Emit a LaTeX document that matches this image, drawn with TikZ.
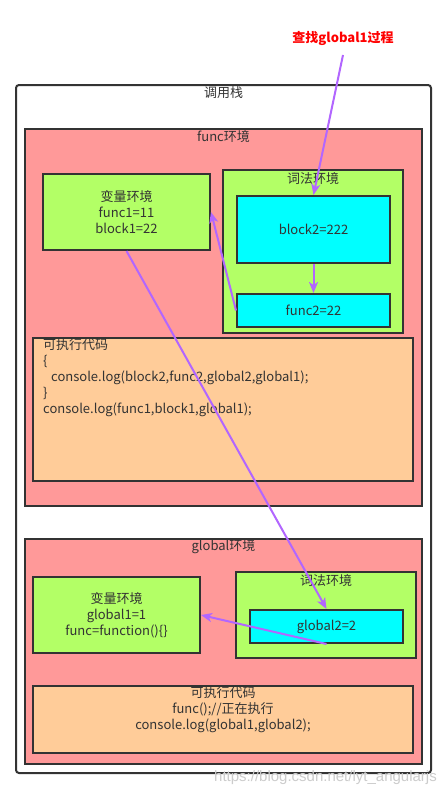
\documentclass[tikz,border=0pt]{standalone}
\usepackage{fontspec}
\setmainfont{Noto Sans CJK SC}
\newfontfamily\wmfont{Liberation Sans}
\usetikzlibrary{arrows.meta}
\definecolor{lineC}{HTML}{333333}
\definecolor{pinkC}{HTML}{FF9999}
\definecolor{greenC}{HTML}{B3FF66}
\definecolor{cyanC}{HTML}{00FFFF}
\definecolor{orangeC}{HTML}{FFCC99}
\definecolor{purpC}{HTML}{B266FF}
\definecolor{redC}{HTML}{FF0000}
\tikzset{
  envbox/.style={draw=lineC, line width=2pt, inner sep=0pt, text=lineC,
    font=\fontsize{13}{16}\selectfont, align=center},
  toplabel/.style={text=lineC, font=\fontsize{13}{16}\selectfont, inner sep=0pt},
  codetext/.style={text=lineC, font=\fontsize{13}{16}\selectfont, inner sep=0pt},
  flow/.style={draw=purpC, line width=2pt, -{Stealth[length=11pt,width=9pt,inset=3pt]}},
}
\begin{document}
\begin{tikzpicture}[x=1pt,y=-1pt]
\useasboundingbox (0,0) rectangle (446,795);
\fill[white] (0,0) rectangle (446,795);
% outer call stack
\node[envbox, rounded corners=3pt, minimum width=415pt, minimum height=688pt] (stack) at (223.5,429) {};
\node[toplabel] (stacklbl) at (223.5,93) {调用栈};
% func environment
\node[envbox, fill=pinkC, minimum width=397pt, minimum height=377pt] (funcenv) at (223.5,317.5) {};
\node[toplabel] (funcenvlbl) at (223.5,137) {func环境};
\node[envbox, fill=greenC, minimum width=167pt, minimum height=76pt] (fvar) at (126.5,212) {变量环境\\func1=11\\block1=22};
\node[envbox, fill=greenC, minimum width=180pt, minimum height=163pt] (flex) at (313,251.5) {};
\node[toplabel] (flexlbl) at (313,178.5) {词法环境};
\node[envbox, fill=cyanC, minimum width=153pt, minimum height=67pt] (block2) at (313.5,229.5) {block2=222};
\node[envbox, fill=cyanC, minimum width=153pt, minimum height=33pt] (func2) at (313.5,310.5) {func2=22};
\node[envbox, fill=orangeC, minimum width=380pt, minimum height=143pt] (fcode) at (223,409.5) {};
\node[codetext, anchor=north west, align=left] (fcodetxt) at (43,338.5) {可执行代码\\\{\\\hspace{8pt}console.log(block2,func2,global2,global1);\\\}\\console.log(func1,block1,global1);};
% global environment
\node[envbox, fill=pinkC, minimum width=397pt, minimum height=225pt] (globalenv) at (223.5,651.5) {};
\node[toplabel] (globalenvlbl) at (223.5,547) {global环境};
\node[envbox, fill=greenC, minimum width=167pt, minimum height=76pt] (gvar) at (116.5,615) {变量环境\\global1=1\\func=function()\{\}};
\node[envbox, fill=greenC, minimum width=180pt, minimum height=86pt] (glex) at (326,615) {};
\node[toplabel] (glexlbl) at (326,580.5) {词法环境};
\node[envbox, fill=cyanC, minimum width=153pt, minimum height=33pt] (global2) at (326.5,626.5) {global2=2};
\node[envbox, fill=orangeC, minimum width=380pt, minimum height=67pt] (gcode) at (223,719.5) {};
\node[codetext, align=center] (gcodetxt) at (223,710) {可执行代码\\func();//正在执行\\console.log(global1,global2);};
% title
\node[text=redC, font=\bfseries\fontsize{13}{16}\selectfont, inner sep=0pt] (title) at (343,38) {查找global1过程};
\coordinate (start) at (343,55);
% arrows
\draw[flow] (start) -- (block2.north);
\draw[flow] (block2.south) -- (func2.north);
\draw[flow] (func2.west) -- (fvar.east);
\draw[flow] (fvar.south) -- (global2.north);
\draw[flow] (global2.south) -- (gvar.east);
% watermark
\node[text=gray!40, font=\wmfont\fontsize{15}{18}\selectfont, inner sep=0pt, anchor=east] (wm) at (437,778) {https://blog.csdn.net/lyt\_angularjs};
\end{tikzpicture}
\end{document}
